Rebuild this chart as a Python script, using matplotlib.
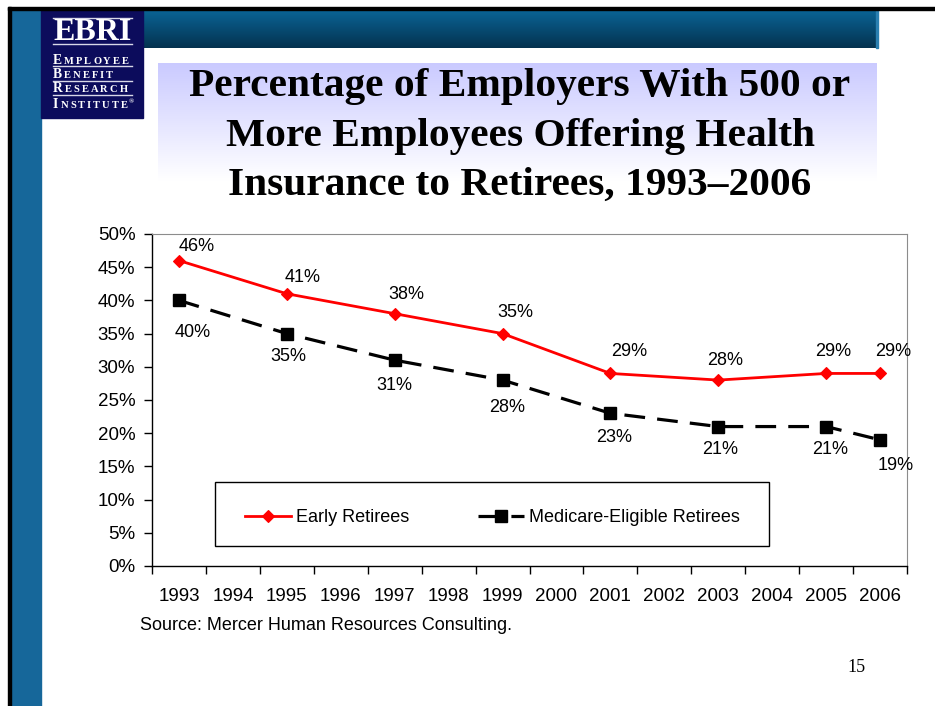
import numpy as np
import matplotlib
matplotlib.use("Agg")
import matplotlib.pyplot as plt
from matplotlib.patches import Rectangle
from matplotlib.colors import to_rgb

# ======================== DATA ========================
YEARS_AXIS = list(range(1993, 2007))
YEARS = [1993, 1995, 1997, 1999, 2001, 2003, 2005, 2006]
EARLY = [46, 41, 38, 35, 29, 28, 29, 29]
MEDICARE = [40, 35, 31, 28, 23, 21, 21, 19]
Y_TICKS = [0, 5, 10, 15, 20, 25, 30, 35, 40, 45, 50]

TITLE_LINES = ["Percentage of Employers With 500 or",
               "More Employees Offering Health",
               "Insurance to Retirees, 1993\u20132006"]
SOURCE = "Source: Mercer Human Resources Consulting."
PAGE = "15"
LOGO_WORDS = ["EMPLOYEE", "BENEFIT", "RESEARCH", "INSTITUTE"]

# label offsets in pixels (dx, dy screen-down)
EARLY_OFFS = [(18, -14), (16, -16), (12, -19), (13, -21), (19, -22), (7, -20), (7, -22), (13, -22)]
MED_OFFS = [(14, 32), (2, 23), (0, 25), (5, 27), (4, 24), (2, 23), (4, 23), (16, 26)]

W, H = 935, 706
SANS = "Liberation Sans"
SERIF = "Liberation Serif"

fig = plt.figure(figsize=(W / 100, H / 100), dpi=100)
fig.patch.set_facecolor("white")

# ======================== SLIDE BACKGROUND ========================
bg = fig.add_axes([0, 0, 1, 1])
bg.axis("off")


def vgradient(ax, x0, x1, y0, y1, c_top, c_bot, stop=1.0):
    n = 256
    t = np.clip(np.linspace(0, 1, n) / stop, 0, 1)[:, None]
    a, b = np.array(to_rgb(c_top)), np.array(to_rgb(c_bot))
    img = (a[None, :] * (1 - t) + b[None, :] * t)[:, None, :]
    ax.imshow(img, extent=(x0, x1, y1, y0), aspect="auto", zorder=1,
              interpolation="bilinear")


# frame lines
bg.add_patch(Rectangle((8, 7), W - 8, 3, color="black", zorder=3))
bg.add_patch(Rectangle((8, 7), 3, H - 7, color="black", zorder=3))
# left blue bar
bg.add_patch(Rectangle((11, 10), 30, H - 10, color="#16679a", zorder=2))
# top bar gradient
vgradient(bg, 143, 877, 10, 48, "#0a6496", "#04324f")
bg.add_patch(Rectangle((876, 10), 1.5, 38, color="#2a7fb0", zorder=2))
# title background gradient
vgradient(bg, 158, 877, 63, 210, "#cacaff", "#ffffff", stop=0.8)
bg.set_xlim(0, W)
bg.set_ylim(H, 0)

# logo
bg.add_patch(Rectangle((41, 10), 102, 108, color="#0c0c5c", zorder=2))
for yy in [18, 44, 66, 81, 95]:
    bg.plot([53, 132], [yy, yy], color="#d8d8e8", lw=1.0, zorder=4)
bg.text(92.5, 32, "EBRI", fontsize=23, family=SERIF, weight="bold",
        color="white", ha="center", va="center", zorder=5)

renderer = fig.canvas.get_renderer()


def caps_word(x, y, word, big=9.8, small=7.6, track=2.0):
    for i, ch in enumerate(word):
        t = bg.text(x, y, ch, fontsize=big if i == 0 else small, family=SERIF,
                    weight="bold", color="white", ha="left", va="baseline", zorder=5)
        x += t.get_window_extent(renderer).width + track
    return x


for word, base in zip(LOGO_WORDS, [63.5, 78, 92.5, 107.5]):
    xe = caps_word(53, base, word)
bg.text(xe - 1, 103, "\u00ae", fontsize=5, family=SERIF, weight="bold",
        color="white", ha="left", va="baseline", zorder=5)

# title
for line, base in zip(TITLE_LINES, [96, 146, 195]):
    bg.text(520, base, line, fontsize=29.8, family=SERIF, weight="bold",
            color="black", ha="center", va="baseline", zorder=5)

bg.text(140, 626, SOURCE, fontsize=13, family=SANS, color="black",
        ha="left", va="center", zorder=5)
bg.text(856, 667, PAGE, fontsize=13, family=SERIF, color="black",
        ha="center", va="center", zorder=5)

# ======================== CHART ========================
ax = fig.add_axes([152 / W, (H - 566) / H, 755 / W, 332 / H])
ax.set_facecolor("white")

ax.plot(YEARS, EARLY, color="#ff0000", lw=2.0, marker="D", ms=6,
        mew=0.8, mec="#ff0000", label="Early Retirees", zorder=4)
ax.plot(YEARS, MEDICARE, color="black", lw=2.3, ls=(0, (6.5, 3.8)),
        marker="s", ms=8, mec="black", label="Medicare-Eligible Retirees",
        zorder=3)

for x, v, (dx, dy) in zip(YEARS, EARLY, EARLY_OFFS):
    ax.annotate(f"{v}%", (x, v), xytext=(dx, -dy), textcoords="offset pixels",
                ha="center", va="center", fontsize=13, family=SANS)
for x, v, (dx, dy) in zip(YEARS, MEDICARE, MED_OFFS):
    ax.annotate(f"{v}%", (x, v), xytext=(dx, -dy), textcoords="offset pixels",
                ha="center", va="center", fontsize=13, family=SANS)

ax.set_xlim(YEARS_AXIS[0] - 0.5, YEARS_AXIS[-1] + 0.5)
ax.set_ylim(Y_TICKS[0], Y_TICKS[-1])

ax.set_xticks(np.arange(YEARS_AXIS[0] - 0.5, YEARS_AXIS[-1] + 1, 1))
ax.set_xticklabels([])
ax.set_xticks(YEARS_AXIS, minor=True)
ax.set_xticklabels([str(y) for y in YEARS_AXIS], minor=True, fontsize=13.5,
                   family=SANS)
ax.tick_params(axis="x", which="major", length=6, width=1, direction="out")
ax.tick_params(axis="x", which="minor", length=0, pad=16)

ax.set_yticks(Y_TICKS)
ax.set_yticklabels([f"{v}%" for v in Y_TICKS], fontsize=13.5, family=SANS)
ax.tick_params(axis="y", length=6, width=1, direction="out", pad=6)

for side in ["left", "bottom"]:
    ax.spines[side].set_color("black")
    ax.spines[side].set_linewidth(1.0)
for side in ["top", "right"]:
    ax.spines[side].set_color("#8c8c8c")
    ax.spines[side].set_linewidth(0.8)

# legend box drawn separately so the inner spacing matches
ax.add_patch(Rectangle((63 / 755, 20 / 332), 554 / 755, 64 / 332,
                       transform=ax.transAxes, facecolor="white",
                       edgecolor="black", lw=1.0, zorder=5))
leg = ax.legend(loc="center", bbox_to_anchor=(93 / 755, 38 / 332, 495 / 755, 20 / 332),
                mode="expand", ncol=2, borderaxespad=0, borderpad=0,
                handlelength=2.55, handletextpad=0.3, numpoints=1,
                frameon=False, prop={"family": SANS, "size": 13})
leg.set_zorder(6)

fig.savefig("out.png", dpi=100)
